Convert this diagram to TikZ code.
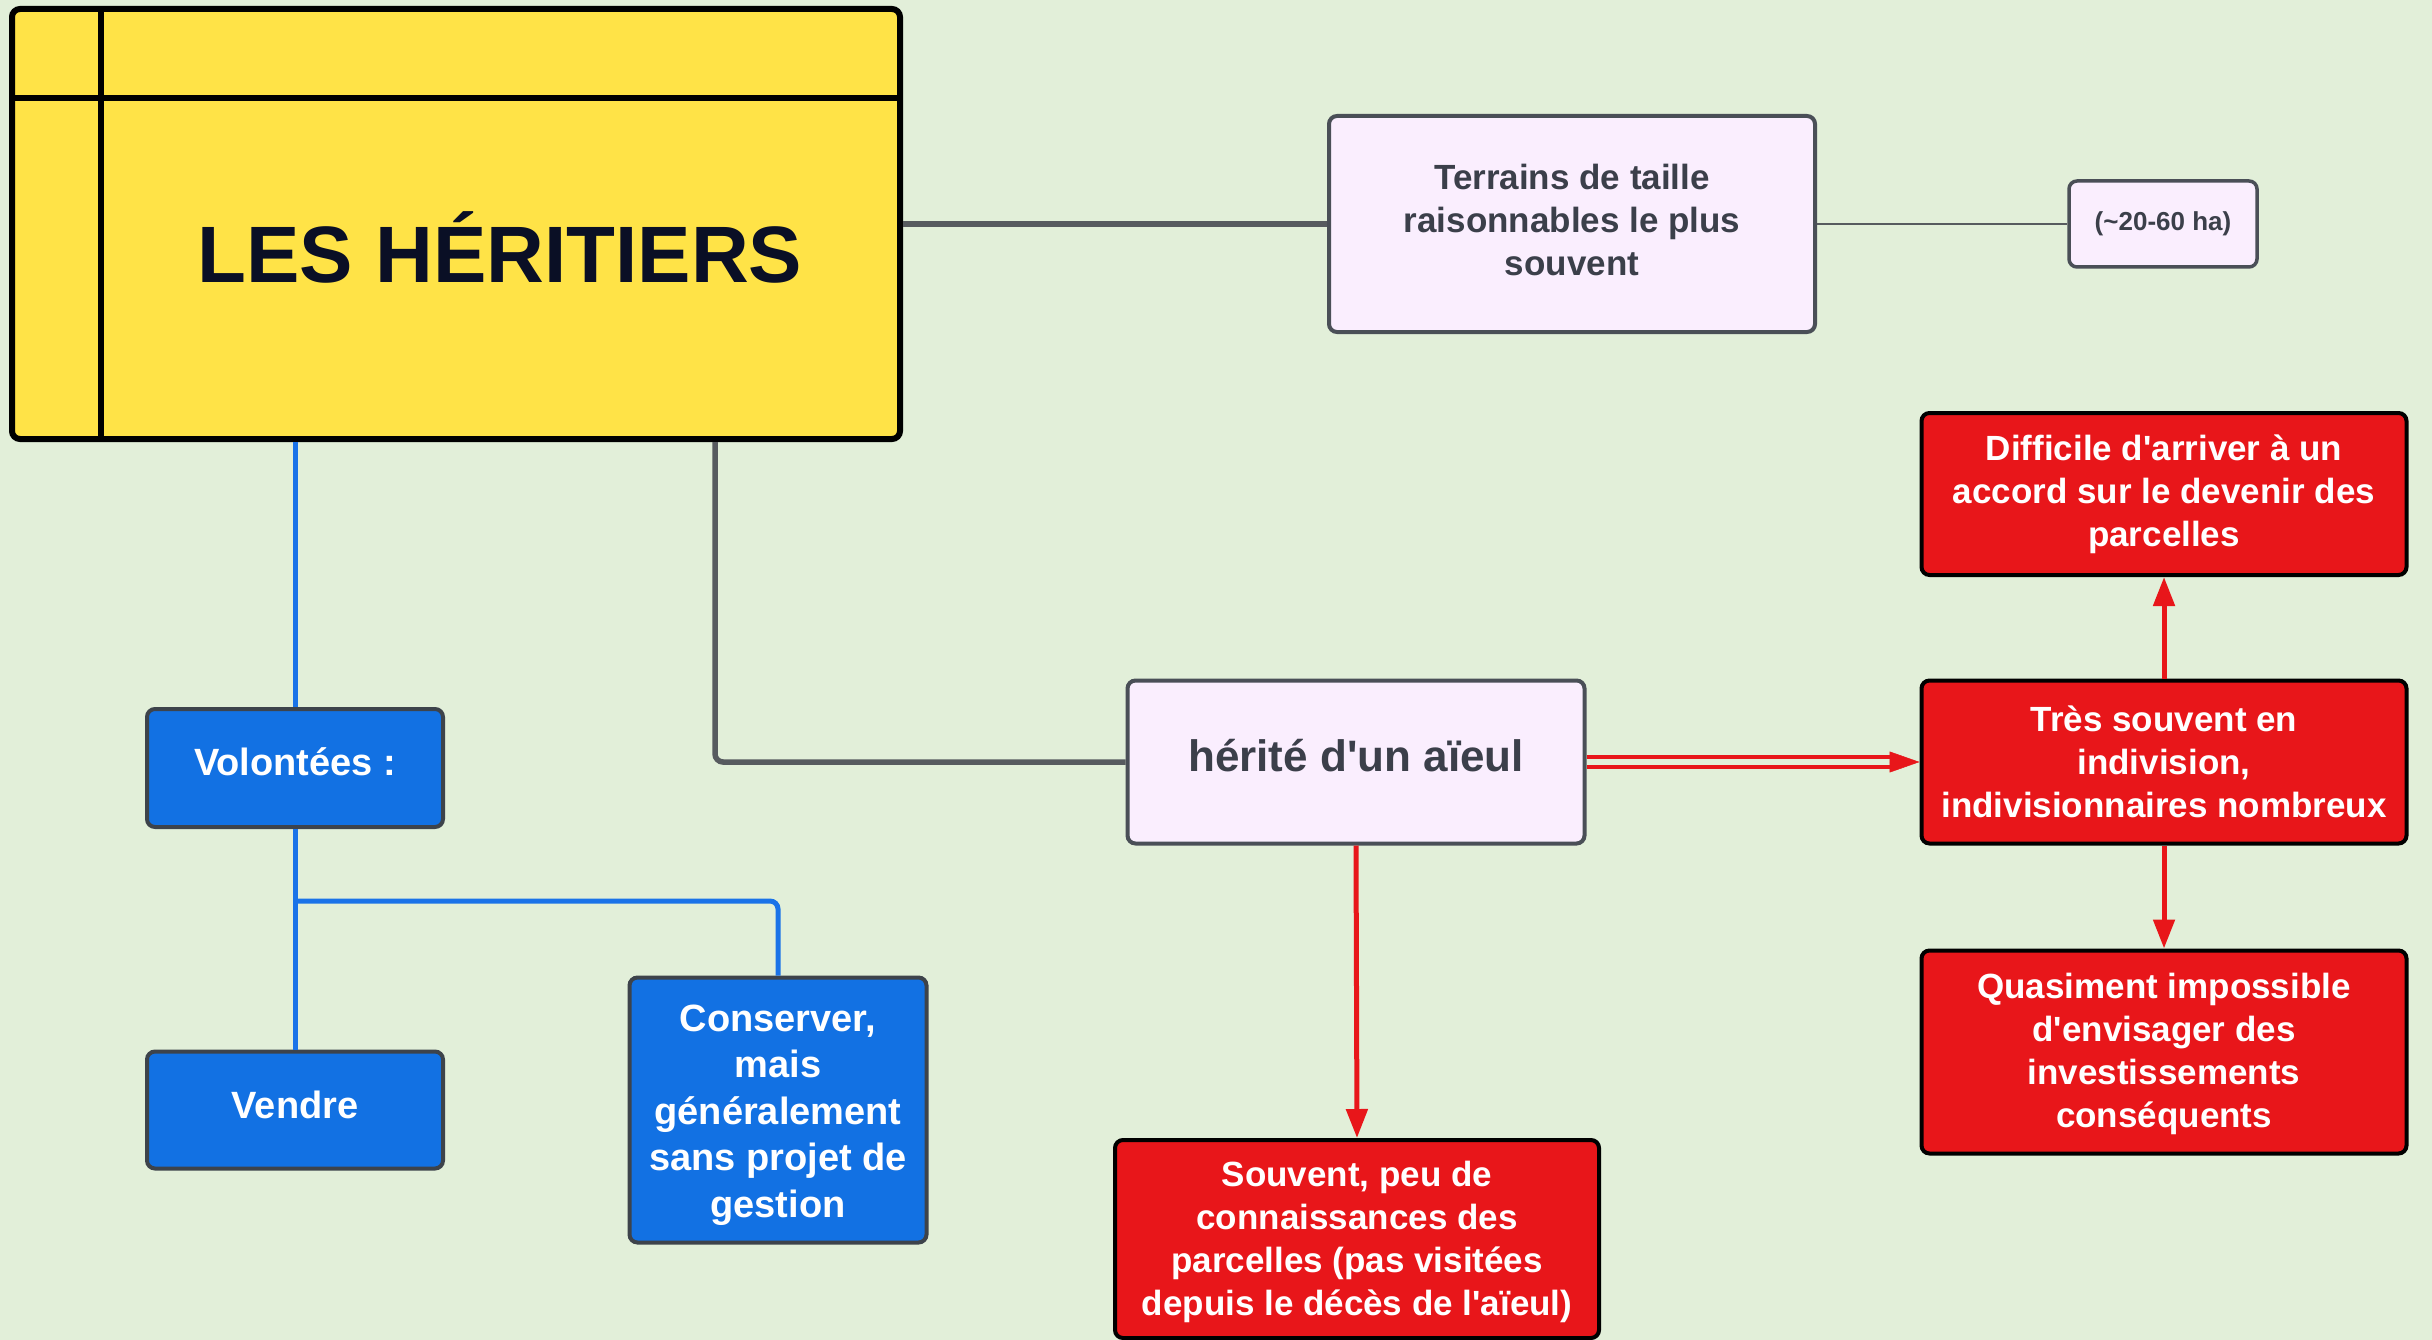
\documentclass[tikz,border=0pt]{standalone}
\usepackage{fontspec}
\setmainfont{Liberation Sans}[Ligatures=TeXOff]
\usetikzlibrary{arrows.meta}
\definecolor{bgc}{HTML}{E2EFD9}
\definecolor{yel}{HTML}{FFE347}
\definecolor{titlec}{HTML}{0A0F25}
\definecolor{lil}{HTML}{FAEEFE}
\definecolor{lilb}{HTML}{4A4F57}
\definecolor{darkt}{HTML}{3B3F4A}
\definecolor{redc}{HTML}{E8161A}
\definecolor{bluec}{HTML}{1271E3}
\definecolor{blueb}{HTML}{3D434B}
\definecolor{grayl}{HTML}{575B5F}
\definecolor{bluel}{HTML}{1A73E8}
\tikzset{
  basebox/.style={rectangle, rounded corners=8pt, line width=4pt, align=center, inner sep=0pt, font=\bfseries},
  lilbox/.style={basebox, draw=lilb, fill=lil, text=darkt},
  redbox/.style={basebox, draw=black, fill=redc, text=white, font=\bfseries\fontsize{35}{43}\selectfont},
  bluebox/.style={basebox, draw=blueb, fill=bluec, text=white, font=\bfseries\fontsize{38}{46.5}\selectfont},
  lbl/.style={align=center, inner sep=0pt},
  grayline/.style={draw=grayl, line width=5.5pt},
  blueline/.style={draw=bluel, line width=5pt},
  redarrow/.style={draw=redc, line width=5pt, -{Triangle[length=29pt,width=21pt]}},
}
\begin{document}
\begin{tikzpicture}[x=1pt,y=-1pt]
\fill[bgc] (0,0) rectangle (2432,1340);
\useasboundingbox (0,0) rectangle (2432,1340);

% main box
\node[rectangle, rounded corners=8pt, draw=black, fill=yel, line width=6pt, minimum width=888pt, minimum height=430pt] (main) at (456,224) {};
\draw[black, line width=6pt] (12,98) -- (900,98);
\draw[black, line width=6pt] (101,9) -- (101,439);
\node[font=\bfseries\fontsize{80}{80}\selectfont, text=titlec] (title) at (500,247) {LES HÉRITIERS};

% lilac boxes
\node[lilbox, minimum width=486pt, minimum height=216pt] (terrains) at (1572,224) {};
\node[lbl, text=darkt, font=\bfseries\fontsize{35}{43}\selectfont] (terrainsT) at ([yshift=4pt]terrains.center) {Terrains de taille\\raisonnables le plus\\souvent};
\node[lilbox, minimum width=188pt, minimum height=86pt, line width=3.5pt, font=\bfseries\fontsize{26}{30}\selectfont] (ha) at (2163,224) {(\char"7E 20-60 ha)};
\node[lilbox, minimum width=457pt, minimum height=163pt] (herite) at (1356,762) {};
\node[lbl, text=darkt, font=\bfseries\fontsize{44}{50}\selectfont] (heriteT) at ([yshift=6pt]herite.center) {hérité d'un aïeul};

% red boxes
\node[redbox, minimum width=485pt, minimum height=162pt] (difficile) at (2164,494) {Difficile d'arriver à un\\accord sur le devenir des\\parcelles};
\node[redbox, minimum width=485pt, minimum height=163pt] (tres) at (2164,762) {Très souvent en\\indivision,\\indivisionnaires nombreux};
\node[redbox, minimum width=485pt, minimum height=203pt] (quasi) at (2164,1052) {};
\node[lbl, text=white, font=\bfseries\fontsize{35}{43}\selectfont] (quasiT) at ([yshift=-2pt]quasi.center) {Quasiment impossible\\d'envisager des\\investissements\\conséquents};
\node[redbox, minimum width=484pt, minimum height=198pt] (souvent) at (1357,1239) {};
\node[lbl, text=white, font=\bfseries\fontsize{35}{43}\selectfont] (souventT) at ([yshift=-3pt]souvent.center) {Souvent, peu de\\connaissances des\\parcelles (pas visitées\\depuis le décès de l'aïeul)};

% blue boxes
\node[bluebox, minimum width=296pt, minimum height=118pt] (volontees) at (295,768) {};
\node[lbl, text=white, font=\bfseries\fontsize{38}{46.5}\selectfont] (volonteesT) at ([yshift=6pt]volontees.center) {Volontées :};
\node[bluebox, minimum width=296pt, minimum height=117pt] (vendre) at (295,1110) {};
\node[lbl, text=white, font=\bfseries\fontsize{38}{46.5}\selectfont] (vendreT) at ([yshift=5pt]vendre.center) {Vendre};
\node[bluebox, minimum width=297pt, minimum height=265pt] (conserver) at (778,1110) {};
\node[lbl, text=white, font=\bfseries\fontsize{38}{46.5}\selectfont] (conserverT) at ([yshift=-5pt]conserver.center) {Conserver,\\mais\\généralement\\sans projet de\\gestion};

% gray connectors
\draw[grayline] (main.east) -- (terrains.west);
\draw[draw=grayl, line width=2.5pt] (terrains.east) -- (ha.west);
\draw[grayline, rounded corners=8pt] ([xshift=259pt]main.south) |- (herite.west);

% blue connectors
\coordinate (bj) at (295,901);
\draw[blueline] ([xshift=-161pt]main.south) -- (volontees.north);
\draw[blueline] (volontees.south) -- (vendre.north);
\draw[blueline, rounded corners=8pt] (bj) -| (conserver.north);

% red connectors
\draw[redarrow] (herite.south) -- (souvent.north);
\draw[redarrow] (tres.north) -- (difficile.south);
\draw[redarrow] (tres.south) -- (quasi.north);
\draw[draw=redc, line width=4.5pt, double=bgc, double distance=5.5pt, shorten >=28pt] (herite.east) -- (tres.west);
\draw[draw=redc, line width=0.5pt, -{Triangle[length=30pt,width=21pt]}] ([xshift=-30pt]tres.west) -- (tres.west);
\end{tikzpicture}
\end{document}
